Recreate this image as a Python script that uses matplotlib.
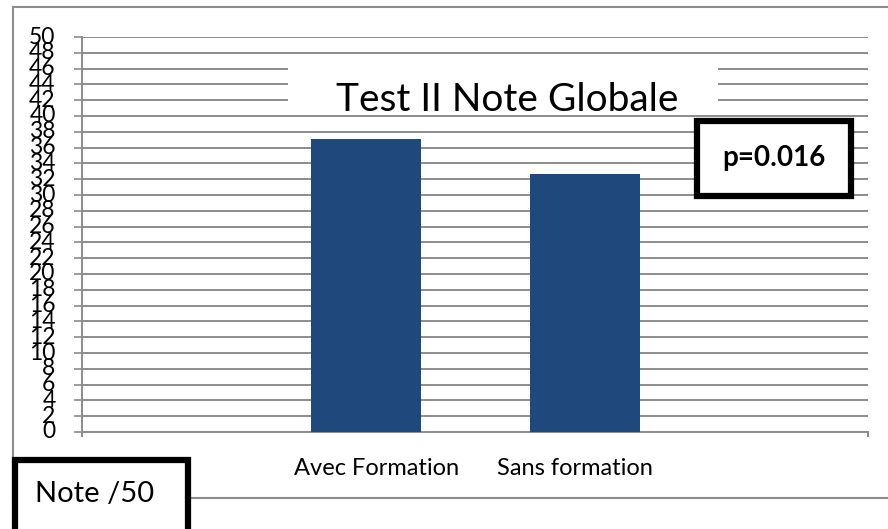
import matplotlib
matplotlib.use('Agg')
import matplotlib.pyplot as plt
import matplotlib.transforms as mtransforms
from matplotlib.patches import Rectangle
from matplotlib.lines import Line2D

# data
categories = ['Avec Formation', 'Sans formation']
notes = [37.1, 32.7]
yticks = list(range(0, 51, 2))

W, H = 888, 529
plt.rcParams['font.family'] = ['Lato', 'DejaVu Sans']

fig = plt.figure(figsize=(W / 100, H / 100), dpi=100)

def fx(px):
    return px / W

def fy(py):
    return 1 - py / H

# chart area frame (grey)
fig.add_artist(Line2D([fx(13), fx(13)], [fy(7), fy(498)], color='#8c8c8c', lw=1.5))
fig.add_artist(Line2D([fx(13), 1.0], [fy(7), fy(7)], color='#8c8c8c', lw=1.5))
fig.add_artist(Line2D([fx(13), 1.0], [fy(498), fy(498)], color='#8c8c8c', lw=1.5))

ax = fig.add_axes([fx(82), fy(432), fx(868) - fx(82), fy(37) - fy(432)])
x = list(range(len(categories)))
ax.bar(x, notes, width=0.5, color='#1f497d', zorder=3)

ax.set_ylim(0, 50)
ax.set_xlim(-1.297, 2.292)
ax.set_yticks(yticks)
ax.set_yticklabels([str(v) for v in yticks], fontsize=16.5)
ax.set_xticks(x)
ax.set_xticklabels(categories, fontsize=17)
ax.tick_params(axis='x', length=0, pad=19)
ax.tick_params(axis='y', length=6, width=1.2, color='#8c8c8c', pad=13)
for lbl in ax.get_yticklabels():
    lbl.set_verticalalignment('center')
# category labels sit slightly toward the middle in the reference
for lbl, dx in zip(ax.get_xticklabels(), [0.11, -0.10]):
    lbl.set_transform(lbl.get_transform() + mtransforms.ScaledTranslation(dx, 0, fig.dpi_scale_trans))

ax.grid(axis='y', color='#8c8c8c', lw=1.4, zorder=0)
ax.set_axisbelow(True)
for s in ['top', 'right']:
    ax.spines[s].set_visible(False)
ax.spines['left'].set_color('#8c8c8c')
ax.spines['bottom'].set_color('#8c8c8c')
ax.spines['left'].set_linewidth(1.4)
ax.spines['bottom'].set_linewidth(1.4)
# small end ticks on the category axis
ax.plot([-1.297, -1.297], [0, -0.5], color='#8c8c8c', lw=1.4, clip_on=False)
ax.plot([2.292, 2.292], [0, -0.5], color='#8c8c8c', lw=1.4, clip_on=False)

# title with white background over the gridlines
fig.add_artist(Rectangle((fx(288), fy(110)), fx(718) - fx(288), fy(60) - fy(110),
                         facecolor='white', edgecolor='none', zorder=5))
fig.text(fx(507), fy(100), 'Test II Note Globale', fontsize=28, ha='center', va='center', zorder=6)

# p-value box
fig.add_artist(Rectangle((fx(697), fy(196)), fx(851) - fx(697), fy(121) - fy(196),
                         facecolor='white', edgecolor='black', lw=4.5, zorder=5))
fig.text(fx(774), fy(158), 'p=0.016', fontsize=20, fontweight='bold', ha='center', va='center', zorder=6)

# axis title box
fig.add_artist(Rectangle((fx(15), fy(540)), fx(188) - fx(15), fy(460) - fy(540),
                         facecolor='white', edgecolor='black', lw=4.5, zorder=5))
fig.text(fx(35), fy(494), 'Note /50', fontsize=21, ha='left', va='center', zorder=6)

fig.savefig('out.png', dpi=100)
